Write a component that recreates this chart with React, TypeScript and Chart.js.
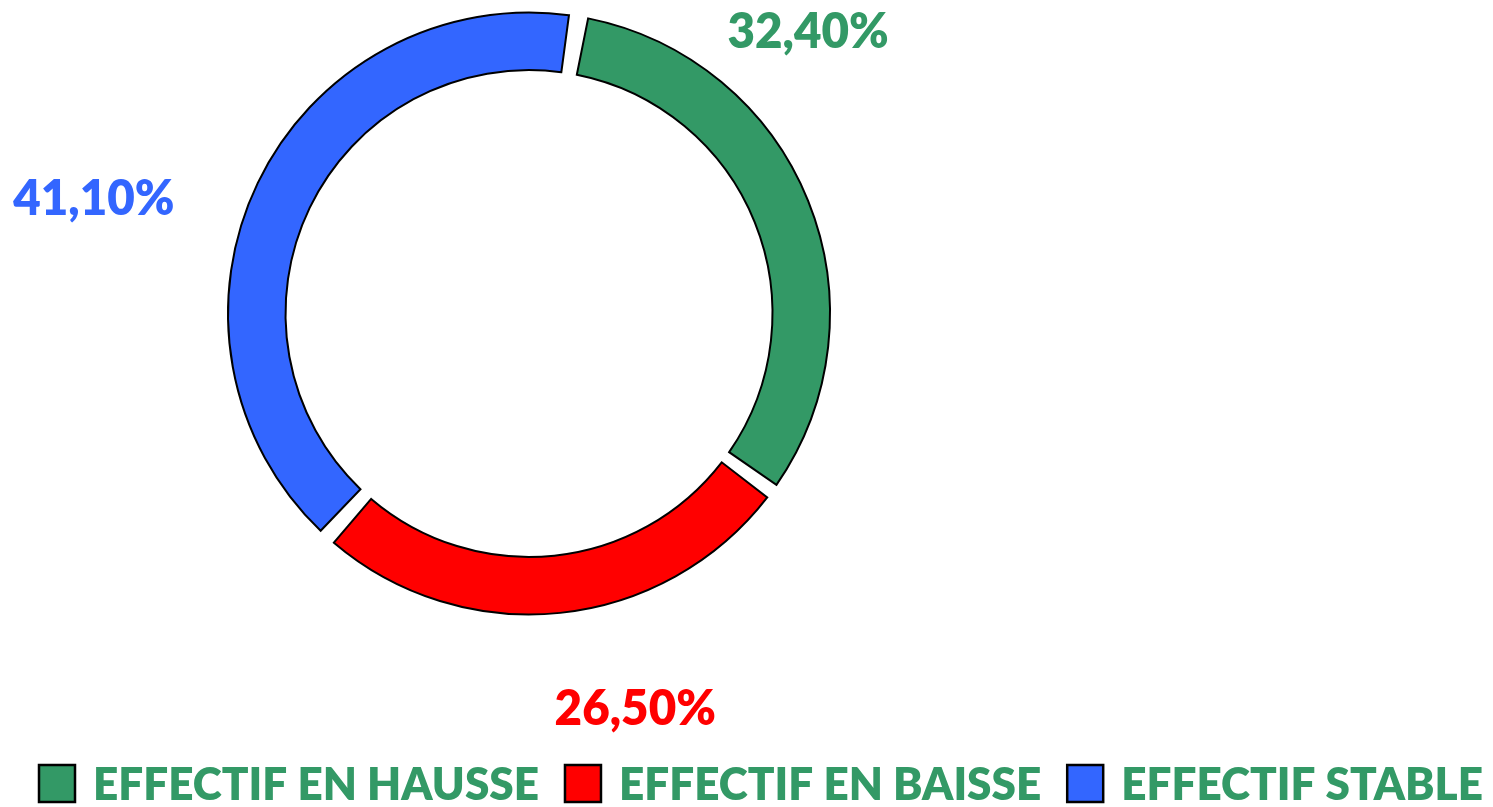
import React, { useEffect, useRef } from "react";
import { Chart, registerables } from "chart.js";

Chart.register(...registerables);

const categories = ["EFFECTIF EN HAUSSE", "EFFECTIF EN BAISSE", "EFFECTIF STABLE"];
const values = [32.4, 26.5, 41.1];
const valueLabels = ["32,40%", "26,50%", "41,10%"];
const colors = ["#339966", "#FF0000", "#3366FF"];
// label offsets (px) from the outer edge point at each slice's mid-angle
const labelOffsets = [
  [0, -169],
  [75, 96],
  [-164, 16],
];

const W = 1493;
const H = 807;
const FONT = "Lato, 'Open Sans', sans-serif";

const labelsPlugin = {
  id: "customLabels",
  afterDraw(chart: any) {
    const ctx = chart.ctx as CanvasRenderingContext2D;
    const meta = chart.getDatasetMeta(0);
    const R = 301;
    ctx.save();
    // data labels
    meta.data.forEach((arc: any, i: number) => {
      const mid = (arc.startAngle + arc.endAngle) / 2;
      const ax = arc.x + Math.cos(mid) * R;
      const ay = arc.y + Math.sin(mid) * R;
      const x = ax + labelOffsets[i][0];
      const y = ay + labelOffsets[i][1];
      ctx.save();
      ctx.translate(x, y);
      ctx.scale(0.95, 1);
      ctx.font = `800 50px ${FONT}`;
      ctx.fillStyle = colors[i];
      ctx.textAlign = "center";
      ctx.textBaseline = "middle";
      ctx.fillText(valueLabels[i], 0, 0);
      ctx.restore();
    });

    // legend
    const spanLeft = 39;
    const spanRight = 1483;
    const box = 36;
    const boxGap = 18;
    const itemGap = 26;
    ctx.font = `800 45px ${FONT}`;
    const widths = categories.map((c) => ctx.measureText(c).width);
    const fixed = categories.length * (box + boxGap) + (categories.length - 1) * itemGap;
    const sx = (spanRight - spanLeft - fixed) / widths.reduce((a, b) => a + b, 0);
    let x = spanLeft;
    const boxTop = 765;
    const baseline = 800;
    categories.forEach((c, i) => {
      ctx.fillStyle = colors[i];
      ctx.fillRect(x, boxTop, box, box + 1);
      ctx.lineWidth = 2.5;
      ctx.strokeStyle = "#000000";
      ctx.strokeRect(x, boxTop, box, box + 1);
      x += box + boxGap;
      ctx.save();
      ctx.translate(x, baseline);
      ctx.scale(sx, 1);
      ctx.fillStyle = "#339966";
      ctx.textAlign = "left";
      ctx.textBaseline = "alphabetic";
      ctx.fillText(c, 0, 0);
      ctx.restore();
      x += widths[i] * sx + itemGap;
    });
    ctx.restore();
  },
};

export default function App() {
  const ref = useRef<HTMLCanvasElement | null>(null);
  useEffect(() => {
    document.body.style.margin = "0";
    const canvas = ref.current!;
    const S = 604;
    const cx = 529;
    const cy = 313.5;
    const chart = new Chart(canvas, {
      type: "doughnut",
      data: {
        labels: categories,
        datasets: [
          {
            data: values,
            backgroundColor: colors,
            borderColor: "#000000",
            borderWidth: 2,
            borderJoinStyle: "miter",
            spacing: 15,
          } as any,
        ],
      },
      options: {
        animation: false,
        responsive: false,
        devicePixelRatio: 1,
        rotation: 9.7,
        cutout: "80.4%",
        layout: {
          padding: {
            left: cx - S / 2,
            right: W - (cx + S / 2),
            top: cy - S / 2,
            bottom: H - (cy + S / 2),
          },
        },
        plugins: {
          legend: { display: false },
          tooltip: { enabled: false },
          title: { display: false },
        },
      } as any,
      plugins: [labelsPlugin],
    });
    return () => chart.destroy();
  }, []);
  return (
    <div style={{ position: "fixed", left: 0, top: 0, width: W, height: H, background: "#fff" }}>
      <canvas ref={ref} width={W} height={H} style={{ width: W, height: H, display: "block" }} />
    </div>
  );
}
